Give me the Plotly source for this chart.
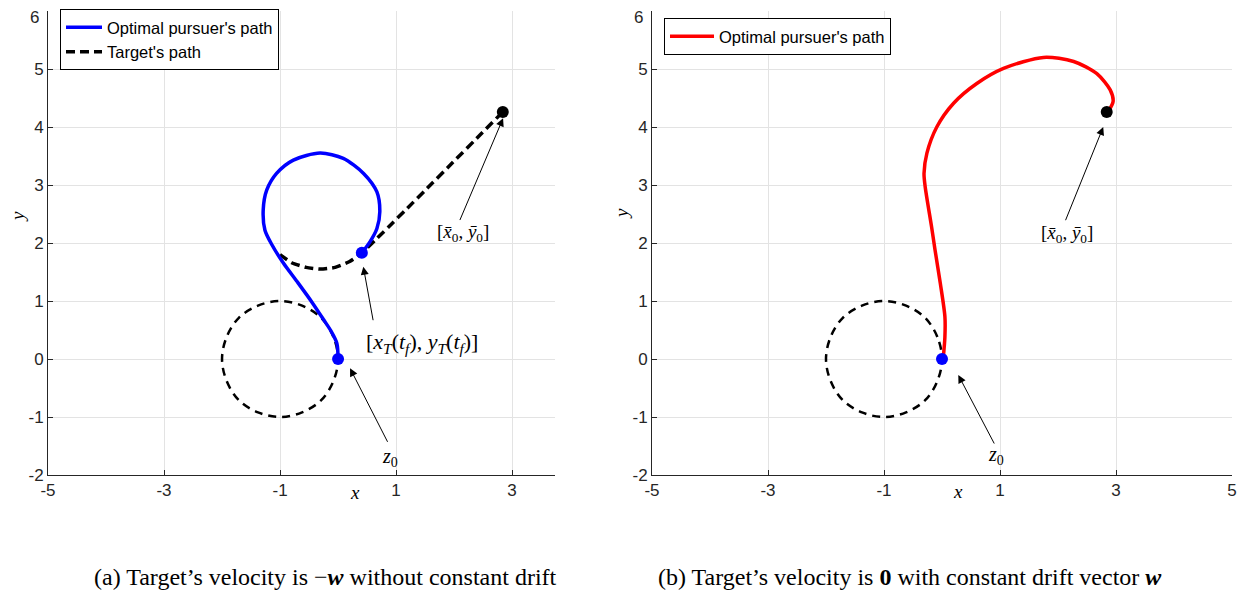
import plotly.graph_objects as go

W, H = 1250, 601
OFF = 8  # page body margin of the browser

# ---------------- data ----------------
# left panel (a)
pursuer_a_x = [0.0, -0.02, -0.12, -0.25, -0.45, -0.71, -0.94, -1.14, -1.26, -1.29, -1.23, -1.06,
               -0.77, -0.31, 0.09, 0.44, 0.67, 0.72, 0.67, 0.55, 0.41]
pursuer_a_y = [0.0, 0.27, 0.48, 0.68, 0.98, 1.34, 1.65, 1.97, 2.22, 2.57, 2.91, 3.20,
               3.43, 3.55, 3.46, 3.20, 2.88, 2.54, 2.25, 2.02, 1.83]
target_a_x = [2.84, 0.41, 0.20, -0.05, -0.30, -0.55, -0.80, -1.00]
target_a_y = [4.26, 1.83, 1.68, 1.58, 1.55, 1.58, 1.66, 1.80]

# right panel (b)
pursuer_b_x = [0.02, 0.05, 0.05, -0.03, -0.12, -0.18, -0.29, -0.31, -0.26, -0.09, 0.20, 0.60,
               1.06, 1.75, 2.27, 2.67, 2.90, 2.95, 2.86]
pursuer_b_y = [0.00, 0.38, 0.73, 1.31, 1.88, 2.28, 2.97, 3.20, 3.55, 4.00, 4.41, 4.75,
               5.01, 5.20, 5.13, 4.92, 4.64, 4.44, 4.26]

# dashed turning circle around (-1, 0), radius 1
circle_x = [0.0, -0.08, -0.29, -0.62, -1.0, -1.38, -1.71, -1.92, -2.0, -1.92, -1.71, -1.38,
            -1.0, -0.62, -0.29, -0.08, 0.0]
circle_y = [0.0, 0.38, 0.71, 0.92, 1.0, 0.92, 0.71, 0.38, 0.0, -0.38, -0.71, -0.92,
            -1.0, -0.92, -0.71, -0.38, 0.0]

start_point = (0.0, 0.0)
target_start = (2.84, 4.26)
capture_point = (0.41, 1.83)

x_ticks_a = [-5, -3, -1, 1, 3]
x_ticks_b = [-5, -3, -1, 1, 3, 5]
y_ticks = [-2, -1, 0, 1, 2, 3, 4, 5, 6]
x_range_a = [-5, 3.74]
x_range_b = [-5, 5]
y_range = [-2, 6]


def px(x):
    return (x - OFF) / W


def py(y):
    return (H - (y - OFF)) / H


# ---------------- figure ----------------
fig = go.Figure()

dash_circle = "8px,6px"

# panel (a)
fig.add_trace(go.Scatter(x=circle_x, y=circle_y, mode="lines", xaxis="x", yaxis="y",
                         line=dict(color="black", width=2.5, dash=dash_circle, shape="spline", smoothing=1.0),
                         showlegend=False, hoverinfo="skip"))
fig.add_trace(go.Scatter(x=target_a_x, y=target_a_y, mode="lines", xaxis="x", yaxis="y",
                         name="Target's path", legend="legend",
                         line=dict(color="black", width=3.5, dash="9px,5px", shape="spline", smoothing=0.5)))
fig.add_trace(go.Scatter(x=pursuer_a_x, y=pursuer_a_y, mode="lines", xaxis="x", yaxis="y",
                         name="Optimal pursuer's path", legend="legend",
                         line=dict(color="#0000ff", width=3.5, shape="spline", smoothing=0.8)))
fig.add_trace(go.Scatter(x=[start_point[0], capture_point[0]], y=[start_point[1], capture_point[1]],
                         mode="markers", xaxis="x", yaxis="y", showlegend=False,
                         marker=dict(color="#0000ff", size=12)))
fig.add_trace(go.Scatter(x=[target_start[0]], y=[target_start[1]], mode="markers", xaxis="x", yaxis="y",
                         showlegend=False, marker=dict(color="black", size=12)))

# panel (b)
fig.add_trace(go.Scatter(x=circle_x, y=circle_y, mode="lines", xaxis="x2", yaxis="y2",
                         line=dict(color="black", width=2.5, dash=dash_circle, shape="spline", smoothing=1.0),
                         showlegend=False, hoverinfo="skip"))
fig.add_trace(go.Scatter(x=pursuer_b_x, y=pursuer_b_y, mode="lines", xaxis="x2", yaxis="y2",
                         name="Optimal pursuer's path", legend="legend2",
                         line=dict(color="#ff0000", width=3.5, shape="spline", smoothing=0.8)))
fig.add_trace(go.Scatter(x=[start_point[0]], y=[start_point[1]], mode="markers", xaxis="x2", yaxis="y2",
                         showlegend=False, marker=dict(color="#0000ff", size=12)))
fig.add_trace(go.Scatter(x=[target_start[0]], y=[target_start[1]], mode="markers", xaxis="x2", yaxis="y2",
                         showlegend=False, marker=dict(color="black", size=12)))

# ---------------- layout ----------------
ydom = [py(475), py(11)]
axis_col = "#262626"
tick_font = dict(family="Liberation Sans, Arial, sans-serif", size=17, color=axis_col)
# the top tick label sits at the page edge; it is drawn as a separate text just below
y_ticktext = [str(t) for t in y_ticks[:-1]] + [""]


def xax(dom, rng, ticks, anchor):
    return dict(domain=dom, range=rng, tickvals=ticks, ticktext=[str(t) for t in ticks],
                showgrid=True, gridcolor="#e3e3e3", gridwidth=1, zeroline=False, automargin=False,
                showline=True, linecolor=axis_col, linewidth=1, ticks="inside", ticklen=5,
                tickcolor=axis_col, tickfont=tick_font, anchor=anchor, fixedrange=True,
                ticklabeloverflow="allow")


def yax(rng, anchor):
    return dict(domain=ydom, range=rng, tickvals=y_ticks, ticktext=y_ticktext,
                showgrid=True, gridcolor="#e3e3e3", gridwidth=1, zeroline=False, automargin=False,
                showline=True, linecolor=axis_col, linewidth=1, ticks="inside", ticklen=5,
                tickcolor=axis_col, tickfont=tick_font, anchor=anchor, fixedrange=True,
                ticklabeloverflow="allow")


legend_font = dict(family="Liberation Sans, Arial, sans-serif", size=16.5, color="black")
fig.update_layout(
    template="none",
    width=W, height=H, margin=dict(l=0, r=0, t=0, b=0, pad=0, autoexpand=False),
    paper_bgcolor="white", plot_bgcolor="white",
    xaxis=xax([px(48), px(555)], x_range_a, x_ticks_a, "y"),
    yaxis=yax(y_range, "x"),
    xaxis2=xax([px(652), px(1232)], x_range_b, x_ticks_b, "y2"),
    yaxis2=yax(y_range, "x2"),
    legend=dict(x=px(60), y=py(9), xanchor="left", yanchor="top", bgcolor="white",
                bordercolor="black", borderwidth=1, font=legend_font, tracegroupgap=0,
                traceorder="reversed", itemwidth=36),
    legend2=dict(x=px(664), y=py(18), xanchor="left", yanchor="top", bgcolor="white",
                 bordercolor="black", borderwidth=1, font=legend_font, itemwidth=44),
    showlegend=True,
)

math_font = dict(family="Liberation Serif, DejaVu Serif, serif", size=20, color="black")
ann = []


def arrow(xr, yr, tip, tail):
    ann.append(dict(xref=xr, yref=yr, axref=xr, ayref=yr, x=tip[0], y=tip[1], ax=tail[0], ay=tail[1],
                    text="", showarrow=True, arrowhead=2, arrowsize=1.6, arrowwidth=1,
                    arrowcolor="black", standoff=0, startstandoff=0))


def label(xr, yr, x, y, text, size=20, angle=0):
    f = dict(math_font)
    f["size"] = size
    ann.append(dict(xref=xr, yref=yr, x=x, y=y, text=text, showarrow=False, font=f, textangle=angle,
                    xanchor="center", yanchor="middle"))


xbar = "[<i>x\u0304</i><sub>0</sub>, <i>y\u0304</i><sub>0</sub>]"
xt = "[<i>x</i><sub><i>T</i></sub>(<i>t</i><sub><i>f</i></sub>), <i>y</i><sub><i>T</i></sub>(<i>t</i><sub><i>f</i></sub>)]"
z0 = "<i>z</i><sub>0</sub>"

# panel (a) annotations
arrow("x", "y", (2.845, 4.15), (2.09, 2.37))
label("x", "y", 2.155, 2.17, xbar, 19)
arrow("x", "y", (0.436, 1.59), (0.609, 0.643))
label("x", "y", 1.45, 0.28, xt, 22)
arrow("x", "y", (0.207, -0.16), (0.867, -1.454))
label("x", "y", 0.9, -1.69, z0, 20)

# panel (b) annotations
arrow("x2", "y2", (2.78, 4.0), (2.12, 2.367))
label("x2", "y2", 2.155, 2.16, xbar, 19)
arrow("x2", "y2", (0.281, -0.276), (0.914, -1.483))
label("x2", "y2", 0.93, -1.67, z0, 20)

# top y tick labels
for xpix in (41, 645):
    ann.append(dict(xref="paper", yref="paper", x=px(xpix), y=py(18), text=str(y_ticks[-1]),
                    showarrow=False, font=tick_font, xanchor="right", yanchor="middle"))

# axis labels
label("x", "paper", 0.29, py(493), "<i>x</i>", 19)
label("x2", "paper", 0.28, py(492), "<i>x</i>", 19)
label("paper", "paper", px(17), py(217), "<i>y</i>", 19, -90)
label("paper", "paper", px(621), py(214), "<i>y</i>", 19, -90)

# captions
cap_font = dict(family="Liberation Serif, Times New Roman, serif", size=24, color="black")
ann.append(dict(xref="paper", yref="paper", x=px(325), y=py(577), showarrow=False, font=cap_font,
                xanchor="center", yanchor="middle",
                text="(a) Target\u2019s velocity is \u2212<b><i>w</i></b> without constant drift"))
ann.append(dict(xref="paper", yref="paper", x=px(910), y=py(577), showarrow=False, font=cap_font,
                xanchor="center", yanchor="middle",
                text="(b) Target\u2019s velocity is <b>0</b> with constant drift vector <b><i>w</i></b>"))

fig.update_layout(annotations=ann)

fig.write_html("out.html")
